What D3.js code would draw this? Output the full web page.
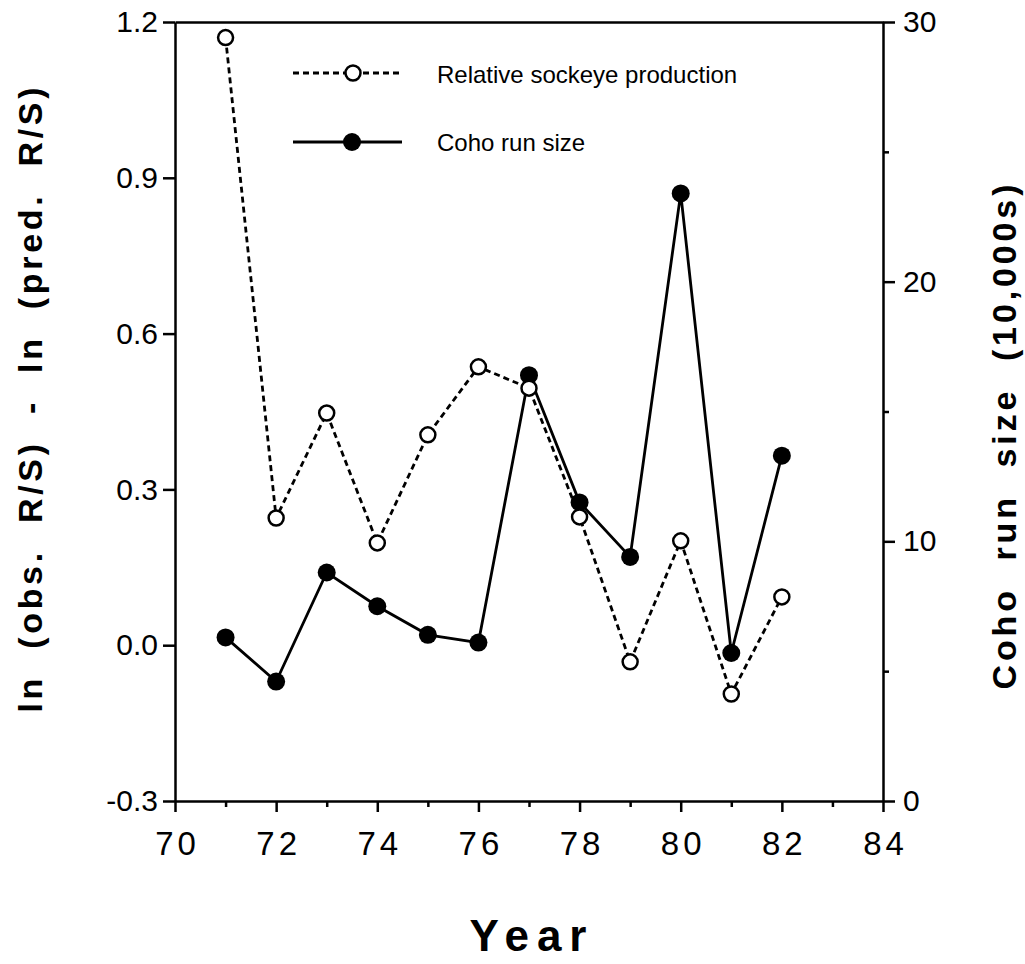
<!DOCTYPE html>
<html>
<head>
<meta charset="utf-8">
<script src="https://cdn.jsdelivr.net/npm/d3@7"></script>
<style>
  body { margin: 0; background: #fff; }
  svg { display: block; }
  text { font-family: "Liberation Sans", Arial, Helvetica, sans-serif; fill: #000; }
</style>
</head>
<body>
<div id="chart"></div>
<script>
// data
var years = [71, 72, 73, 74, 75, 76, 77, 78, 79, 80, 81, 82];
var sockeye = [1.17, 0.245, 0.447, 0.197, 0.405, 0.536, 0.495, 0.247, -0.032, 0.201, -0.094, 0.093];
var coho = [6.3, 4.6, 8.8, 7.5, 6.4, 6.1, 16.4, 11.5, 9.4, 23.4, 5.7, 13.3];

var xTicks = [70, 72, 74, 76, 78, 80, 82, 84];
var xMinor = [71, 73, 75, 77, 79, 81, 83];
var leftTicks = [-0.3, 0.0, 0.3, 0.6, 0.9, 1.2];
var rightTicks = [0, 10, 20, 30];
var rightMinor = [5, 15, 25];

var legendLabels = ["Relative sockeye production", "Coho run size"];

var width = 1025, height = 964;
var plotLeft = 175, plotRight = 883, plotTop = 22, plotBottom = 801;

var svg = d3.select("#chart").append("svg")
    .attr("width", width)
    .attr("height", height);

var x = d3.scaleLinear().domain([70, 84]).range([plotLeft, plotRight]);
var yL = d3.scaleLinear().domain([-0.3, 1.2]).range([plotBottom, plotTop]);
var yR = d3.scaleLinear().domain([0, 30]).range([plotBottom, plotTop]);

function styleAxis(g, size) {
    g.selectAll("path.domain").attr("stroke", "#000").attr("stroke-width", 2.5);
    g.selectAll(".tick line").attr("stroke", "#000").attr("stroke-width", 2.5);
    g.selectAll(".tick text")
        .style("font-size", size + "px")
        .style("fill", "#000");
}

// bottom axis
var gx = svg.append("g")
    .attr("transform", "translate(0," + plotBottom + ")")
    .call(d3.axisBottom(x).tickValues(xTicks).tickSize(11).tickSizeOuter(0)
        .tickPadding(20).tickFormat(d3.format("d")));
styleAxis(gx, 33);
gx.selectAll(".tick text").style("letter-spacing", "4px").attr("dx", "2px");

svg.append("g")
    .attr("transform", "translate(0," + plotBottom + ")")
    .call(d3.axisBottom(x).tickValues(xMinor).tickSize(6).tickSizeOuter(0).tickFormat(""))
    .call(function(g) { styleAxis(g, 10); g.select(".domain").remove(); });

// top frame line
svg.append("g")
    .attr("transform", "translate(0," + plotTop + ")")
    .call(d3.axisTop(x).tickValues([]).tickSizeOuter(0))
    .call(function(g) { styleAxis(g, 10); });

// left axis (plain hyphen for the minus, as in the original)
var gl = svg.append("g")
    .attr("transform", "translate(" + plotLeft + ",0)")
    .call(d3.axisLeft(yL).tickValues(leftTicks).tickSize(12).tickSizeOuter(0)
        .tickPadding(5).tickFormat(function(d) { return d.toFixed(1); }));
styleAxis(gl, 30);

// right axis
var gr = svg.append("g")
    .attr("transform", "translate(" + plotRight + ",0)")
    .call(d3.axisRight(yR).tickValues(rightTicks).tickSize(12).tickSizeOuter(0)
        .tickPadding(8).tickFormat(d3.format("d")));
styleAxis(gr, 30);

svg.append("g")
    .attr("transform", "translate(" + plotRight + ",0)")
    .call(d3.axisRight(yR).tickValues(rightMinor).tickSize(6).tickSizeOuter(0).tickFormat(""))
    .call(function(g) { styleAxis(g, 10); g.select(".domain").remove(); });

// lines
var sockData = years.map(function(d, i) { return { year: d, v: sockeye[i] }; });
var cohoData = years.map(function(d, i) { return { year: d, v: coho[i] }; });

var sockLine = d3.line().x(function(d) { return x(d.year); }).y(function(d) { return yL(d.v); });
var cohoLine = d3.line().x(function(d) { return x(d.year); }).y(function(d) { return yR(d.v); });

svg.append("path")
    .datum(sockData)
    .attr("d", sockLine)
    .attr("fill", "none")
    .attr("stroke", "#000")
    .attr("stroke-width", 2.8)
    .attr("stroke-dasharray", "6,4");

svg.append("path")
    .datum(cohoData)
    .attr("d", cohoLine)
    .attr("fill", "none")
    .attr("stroke", "#000")
    .attr("stroke-width", 2.8);

svg.selectAll("circle.coho")
    .data(cohoData)
    .enter().append("circle")
    .attr("class", "coho")
    .attr("cx", function(d) { return x(d.year); })
    .attr("cy", function(d) { return yR(d.v); })
    .attr("r", 9)
    .attr("fill", "#000");

svg.selectAll("circle.sock")
    .data(sockData)
    .enter().append("circle")
    .attr("class", "sock")
    .attr("cx", function(d) { return x(d.year); })
    .attr("cy", function(d) { return yL(d.v); })
    .attr("r", 7.5)
    .attr("fill", "#fff")
    .attr("stroke", "#000")
    .attr("stroke-width", 2.5);

// legend
var legend = svg.append("g");
legend.append("line")
    .attr("x1", 293).attr("x2", 402).attr("y1", 73).attr("y2", 73)
    .attr("stroke", "#000").attr("stroke-width", 2.8).attr("stroke-dasharray", "6,4");
legend.append("circle")
    .attr("cx", 353).attr("cy", 73).attr("r", 7.5)
    .attr("fill", "#fff").attr("stroke", "#000").attr("stroke-width", 2.5);
legend.append("line")
    .attr("x1", 293).attr("x2", 402).attr("y1", 142).attr("y2", 142)
    .attr("stroke", "#000").attr("stroke-width", 2.8);
legend.append("circle")
    .attr("cx", 352).attr("cy", 142).attr("r", 9).attr("fill", "#000");

legend.selectAll("text")
    .data(legendLabels)
    .enter().append("text")
    .attr("x", 437)
    .attr("y", function(d, i) { return i === 0 ? 83 : 151; })
    .style("font-size", "24px")
    .text(function(d) { return d; });

// axis titles
svg.append("text")
    .attr("x", 532)
    .attr("y", 951)
    .attr("text-anchor", "middle")
    .style("font-size", "44px")
    .style("font-weight", "bold")
    .style("letter-spacing", "8px")
    .text("Year");

svg.append("text")
    .attr("transform", "translate(42,400) rotate(-90)")
    .attr("text-anchor", "middle")
    .attr("textLength", 625)
    .attr("lengthAdjust", "spacing")
    .style("font-size", "34px")
    .style("font-weight", "bold")
    .style("white-space", "pre")
    .text("ln  (obs.  R/S)  -  ln  (pred.  R/S)");

svg.append("text")
    .attr("transform", "translate(1016,437) rotate(-90)")
    .attr("text-anchor", "middle")
    .attr("textLength", 505)
    .attr("lengthAdjust", "spacing")
    .style("font-size", "34px")
    .style("font-weight", "bold")
    .style("white-space", "pre")
    .text("Coho  run  size  (10,000s)");
</script>
</body>
</html>
